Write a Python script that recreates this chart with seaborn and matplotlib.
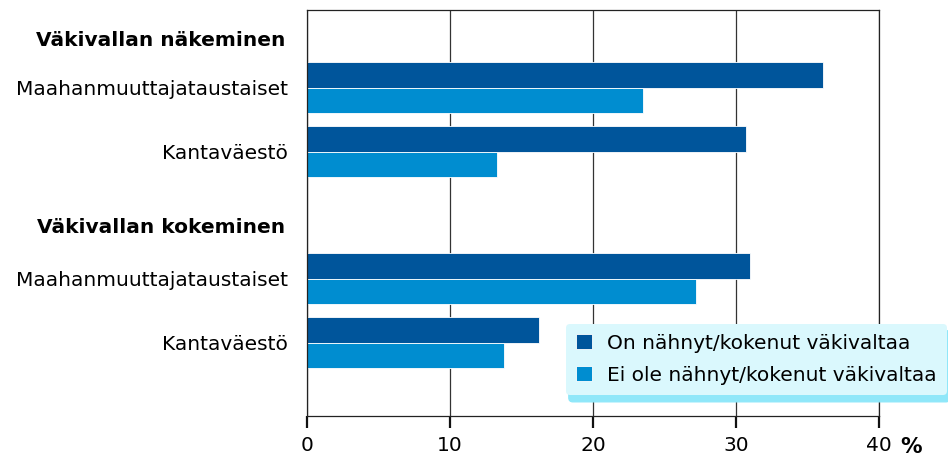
import pandas as pd
import matplotlib
matplotlib.use("Agg")
import matplotlib.pyplot as plt
import seaborn as sns

# Data (%)
groups = ["Väkivallan näkeminen", "Väkivallan kokeminen"]
populations = ["Maahanmuuttajataustaiset", "Kantaväestö"]
series = ["On nähnyt/kokenut väkivaltaa", "Ei ole nähnyt/kokenut väkivaltaa"]
seen = [36.1, 30.7, 31.0, 16.2]
not_seen = [23.5, 13.3, 27.2, 13.8]
xticks = [0, 10, 20, 30, 40]

# build long table
rows = []
keys = []
i = 0
for g in groups:
    keys.append(g)
    for p in populations:
        k = g + "|" + p
        keys.append(k)
        rows.append({"key": k, "sarja": series[0], "arvo": seen[i]})
        rows.append({"key": k, "sarja": series[1], "arvo": not_seen[i]})
        i += 1
df = pd.DataFrame(rows)

sns.set_style("ticks")
plt.rcParams["font.family"] = ["DejaVu Sans"]
plt.rcParams["text.color"] = "black"
plt.rcParams["ytick.color"] = "black"

fs = 14.5

fig = plt.figure(figsize=(9.48, 4.57), dpi=100)
ax = fig.add_axes([0.3238, 0.0897, 0.6034, 0.8884])

sns.barplot(data=df, y="key", x="arvo", hue="sarja", order=keys, orient="h",
            palette=["#00559B", "#008DD0"], saturation=1, width=0.8, ax=ax,
            edgecolor="white", linewidth=0.6, legend=True)

ax.set_xlim(0, 40)
ax.set_ylim(6.15, -0.22)
ax.set_xticks(xticks)
ax.set_xticklabels([str(t) for t in xticks], fontsize=fs, color="black")
ax.grid(axis="x", color="#333333", linewidth=0.9)
ax.set_axisbelow(True)
ax.set_xlabel("")
ax.set_ylabel("")

# category labels
pos = [k for k in range(len(keys)) if "|" in keys[k]]
ax.set_yticks(pos)
ax.set_yticklabels([keys[k].split("|")[1] for k in pos], fontsize=fs)
ax.tick_params(axis="y", left=False, length=0, pad=14)
ax.tick_params(axis="x", bottom=True, direction="out", length=8.5, width=1.6,
               color="#111111", pad=6)
for s in ax.spines.values():
    s.set_color("#222222")
    s.set_linewidth(0.9)

# group headers
hdr_y = [0.251, 3.2]
for g, y in zip(groups, hdr_y):
    ax.text(-0.038, y, g, transform=ax.get_yaxis_transform(), ha="right", va="center",
            fontsize=fs, fontweight="bold")

ax.text(1.056, -0.077, "%", transform=ax.transAxes, ha="center", va="center",
        fontsize=fs + 1, fontweight="bold")

ax.legend(loc="lower right", bbox_to_anchor=(0.999, 0.136), bbox_transform=fig.transFigure,
          fontsize=fs, frameon=True, fancybox=True, facecolor="#DAF8FD", edgecolor="none",
          framealpha=1, shadow={"color": "#8FE7F9", "alpha": 1, "ox": 2, "oy": -5},
          handlelength=0.8, handleheight=0.8, borderpad=0.5, labelspacing=0.65,
          handletextpad=0.75, borderaxespad=0)

plt.savefig("out.png", dpi=100)
